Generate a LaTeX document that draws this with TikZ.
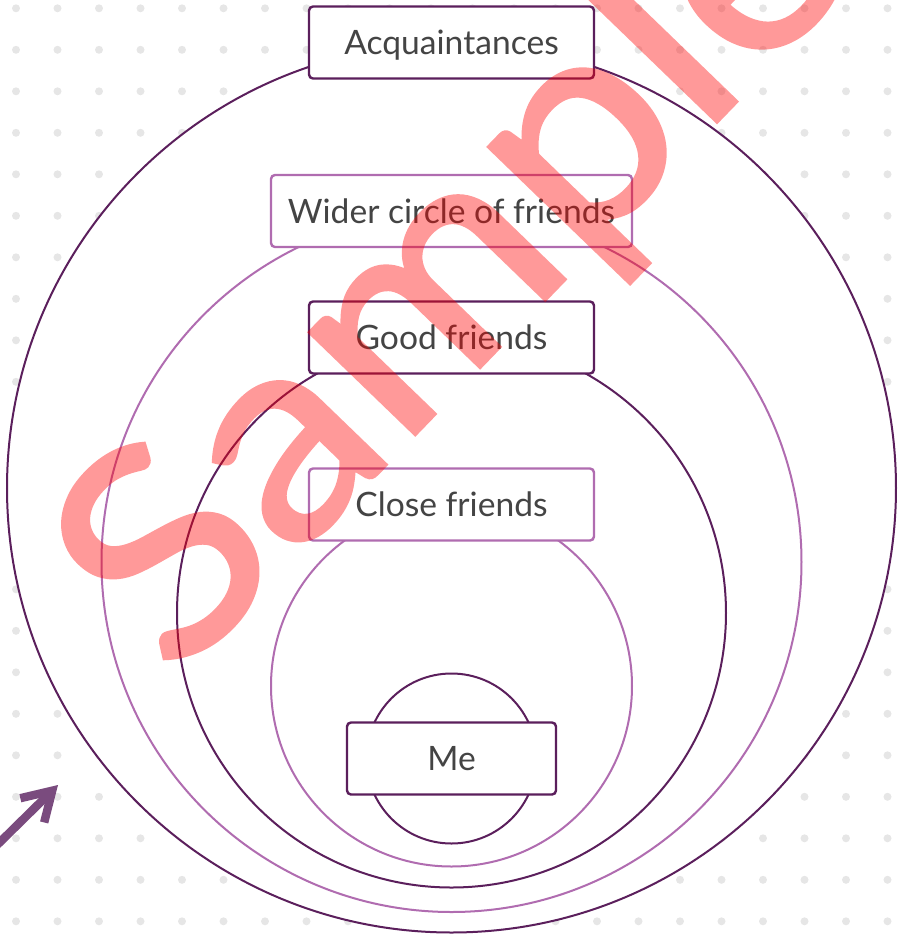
\documentclass[tikz,border=0pt]{standalone}
\usepackage{fontspec}
\setmainfont{Lato}
\newfontfamily\stampfont[FakeBold=1.2]{Lato}
\usetikzlibrary{arrows.meta,positioning}
\definecolor{ringdark}{HTML}{5B1F5C}
\definecolor{ringlight}{HTML}{B06CB0}
\definecolor{labelgrey}{HTML}{444444}
\definecolor{dotgrey}{HTML}{E6E6E6}
\definecolor{arrowpurple}{HTML}{7A4B7E}
\tikzset{
  darkring/.style={circle,draw=ringdark,line width=1pt,fill=white,inner sep=0pt},
  lightring/.style={circle,draw=ringlight,line width=1pt,fill=white,inner sep=0pt},
  darkbox/.style={draw=ringdark,fill=white,rounded corners=2pt,line width=1.2pt,minimum width=142.5pt,minimum height=36pt,text height=12pt,text depth=0pt,font=\fontsize{16.8}{20}\selectfont,text=labelgrey},
  lightbox/.style={darkbox,draw=ringlight},
  pointer/.style={-{Straight Barb[length=14pt,width=17pt]},line width=4.2pt,arrowpurple,line cap=round},
  stamp/.style={text=red,font=\stampfont\fontsize{145}{150}\selectfont,inner sep=0pt}
}

\begin{document}
\begin{tikzpicture}[x=0.5pt,y=-0.5pt]
  \useasboundingbox (0,0) rectangle (900,934);
  \clip (0,0) rectangle (900,934);
  % dotted backdrop
  \foreach \i in {0,...,21}
    \foreach \j in {0,...,22}
      \fill[dotgrey] (16+41.5*\i,8.3+41.5*\j) circle[radius=4];
  % rings, outermost first
  \node[darkring,minimum size=444.5pt] (acqring) at (451.5,488) {};
  \node[lightring,minimum size=350pt] (widering) at (451.5,562) {};
  \node[darkring,minimum size=274.5pt] (goodring) at (451.5,613) {};
  \node[lightring,minimum size=180.5pt] (closering) at (451.5,686) {};
  \node[darkring,minimum size=85pt] (mering) at (451.5,758.5) {};
  % labels sit on top of each ring
  \node[darkbox] (acq) at (acqring.north) {Acquaintances};
  \node[lightbox,minimum width=180.5pt] (wider) at (widering.north) {Wider circle of friends};
  \node[darkbox] (good) at (goodring.north) {Good friends};
  \node[lightbox] (close) at (closering.north) {Close friends};
  \node[darkbox,minimum width=104.5pt] (me) at (mering) {Me};
  % arrow in the corner
  \coordinate (tail) at (-4,846);
  \coordinate (tip) at (58,785);
  \draw[pointer] (tail) -- (tip);
  % watermark
  \begin{scope}[transparency group,opacity=0.4]
    \node[stamp,rotate=46,xscale=1.08] (sample) at (462,268) {Sample};
  \end{scope}
\end{tikzpicture}
\end{document}
